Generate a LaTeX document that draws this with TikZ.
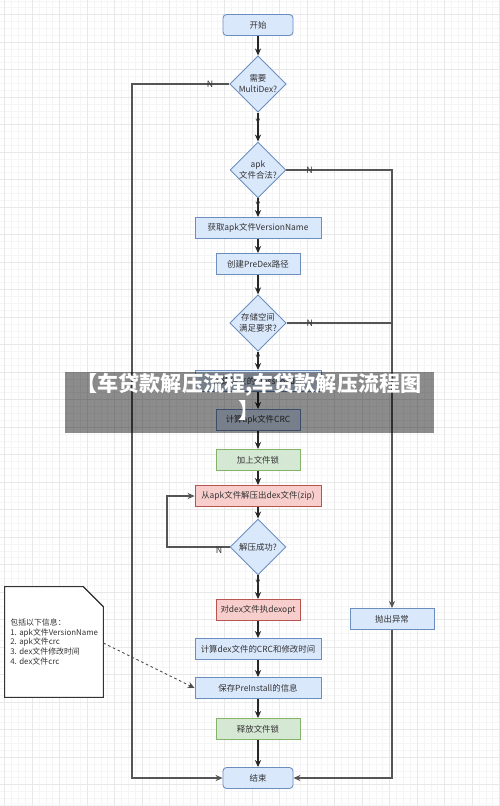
\documentclass[tikz,border=0pt]{standalone}
\usepackage{fontspec}
\setmainfont{Noto Sans CJK SC}
\usetikzlibrary{shapes.geometric,arrows.meta}

\definecolor{bluefill}{HTML}{DAE8FC}
\definecolor{bluedraw}{HTML}{6C8EBF}
\definecolor{greenfill}{HTML}{D5E8D4}
\definecolor{greendraw}{HTML}{82B366}
\definecolor{redfill}{HTML}{F8CECC}
\definecolor{reddraw}{HTML}{B85450}
\definecolor{linegray}{HTML}{555555}

\begin{document}
\begin{tikzpicture}[x=0.02cm,y=-0.02cm,>={Stealth[length=4pt,width=3.5pt]},
    every node/.style={font=\fontsize{4.8}{6.2}\selectfont,text=black!80},
    box/.style={rectangle,draw=bluedraw,fill=bluefill,line width=0.5pt,minimum height=0.42cm,inner sep=1pt},
    wide/.style={box,minimum width=2.52cm},
    mid/.style={box,minimum width=1.68cm},
    term/.style={box,rounded corners=2pt,minimum width=1.4cm},
    green/.style={fill=greenfill,draw=greendraw},
    red/.style={fill=redfill,draw=reddraw},
    decide/.style={diamond,draw=bluedraw,fill=bluefill,line width=0.5pt,minimum width=1.12cm,minimum height=1.12cm,inner sep=0pt,align=center},
    flow/.style={->,draw=black!85,line width=0.6pt},
    side/.style={draw=linegray,line width=0.6pt},
    yn/.style={font=\fontsize{5}{6}\selectfont,inner sep=0.5pt},
    gridmajor/.style={draw=black!9,line width=0.3pt},
    gridminor/.style={draw=black!4,line width=0.2pt}]

\useasboundingbox (0,0) rectangle (500,806);
\fill[white] (0,0) rectangle (500,806);
\foreach \i in {0,...,73} \draw[gridminor] ({4.5+6.875*\i},0) -- ({4.5+6.875*\i},806);
\foreach \i in {0,...,117} \draw[gridminor] (0,{0.75+6.875*\i}) -- (500,{0.75+6.875*\i});
\foreach \i in {0,...,18} \draw[gridmajor] ({4.5+27.5*\i},0) -- ({4.5+27.5*\i},806);
\foreach \i in {0,...,29} \draw[gridmajor] (0,{14.5+27.5*\i}) -- (500,{14.5+27.5*\i});

\node[term] (start) at (258,25) {开始};
\node[decide] (multidex) at (258,84) {需要\\MultiDex?};
\node[decide] (valid) at (258,170) {apk\\文件合法?};
\node[wide] (version) at (258,228) {获取apk文件VersionName};
\node[mid] (predex) at (258,264) {创建PreDex路径};
\node[decide] (space) at (258,323) {存储空间\\满足要求?};
\node[wide] (loader) at (258,381) {创建独立的ClassLoader};
\node[mid] (crc) at (258,420) {计算apk文件CRC};
\node[mid,green] (lock) at (258,460) {加上文件锁};
\node[wide,red] (unzip) at (258,496) {从apk文件解压出dex文件(zip)};
\node[decide] (ok) at (258,547) {解压成功?};
\node[mid,red] (dexopt) at (258,610) {对dex文件执dexopt};
\node[wide] (dexcrc) at (258,649) {计算dex文件的CRC和修改时间};
\node[wide] (save) at (258,688) {保存PreInstall的信息};
\node[mid,green] (unlock) at (258,729) {释放文件锁};
\node[term] (finish) at (258,778) {结束};
\node[mid] (error) at (392,619) {抛出异常};

\node[inner sep=0pt,minimum width=1.96cm,minimum height=2.2cm] (note) at (54,642) {};
\draw[line width=0.6pt,draw=black!80,fill=white] (note.north west) -- ([xshift=-0.4cm]note.north east)
  -- ([yshift=-0.4cm]note.north east) -- (note.south east) -- (note.south west) -- cycle;
\draw[line width=0.5pt,draw=black!80] ([xshift=-0.4cm]note.north east) -- ([yshift=-0.4cm]note.north east);
\node[anchor=north west,align=left,inner sep=0pt,font=\fontsize{4.5}{5.65}\selectfont] (notetext) at (10,618)
  {包括以下信息：\\1. apk文件VersionName\\2. apk文件crc\\3. dex文件修改时间\\4. dex文件crc};

\draw[flow] (start) -- (multidex);
\draw[flow] (multidex) -- node[yn,pos=0.35] {Y} (valid);
\draw[flow] (valid) -- node[yn,pos=0.35] {Y} (version);
\draw[flow] (version) -- (predex);
\draw[flow] (predex) -- (space);
\draw[flow] (space) -- node[yn,pos=0.35] {Y} (loader);
\draw[flow] (loader) -- (crc);
\draw[flow] (crc) -- (lock);
\draw[flow] (lock) -- (unzip);
\draw[flow] (unzip) -- (ok);
\draw[flow] (ok) -- node[yn,pos=0.35] {Y} (dexopt);
\draw[flow] (dexopt) -- (dexcrc);
\draw[flow] (dexcrc) -- (save);
\draw[flow] (save) -- (unlock);
\draw[flow] (unlock) -- (finish);

\draw[side,->] (multidex.west) -- node[yn,pos=0.2] {N} (132,84) |- (finish.west);
\draw[side,->] (valid.east) -- node[yn,pos=0.22] {N} (392,170) -- (error.north);
\draw[side] (space.east) -- node[yn,pos=0.22] {N} (392,323);
\draw[side,->] (error.south) |- (finish.east);
\draw[side,->] (ok.west) -- node[yn,pos=0.17,below=-1pt] {N} (167,547) |- (unzip.west);
\draw[->,draw=black!70,line width=0.5pt,dashed,dash pattern=on 1.5pt off 1.5pt] (note.east |- 0,643) -- (save.west);

\fill[black,opacity=0.45] (65,372) rectangle (434,433);
\node[align=center,inner sep=0pt,text=white,font=\fontsize{12}{15}\bfseries] (banner) at (249,397)
  {【车贷款解压流程,车贷款解压流程图\\】};

\end{tikzpicture}
\end{document}
